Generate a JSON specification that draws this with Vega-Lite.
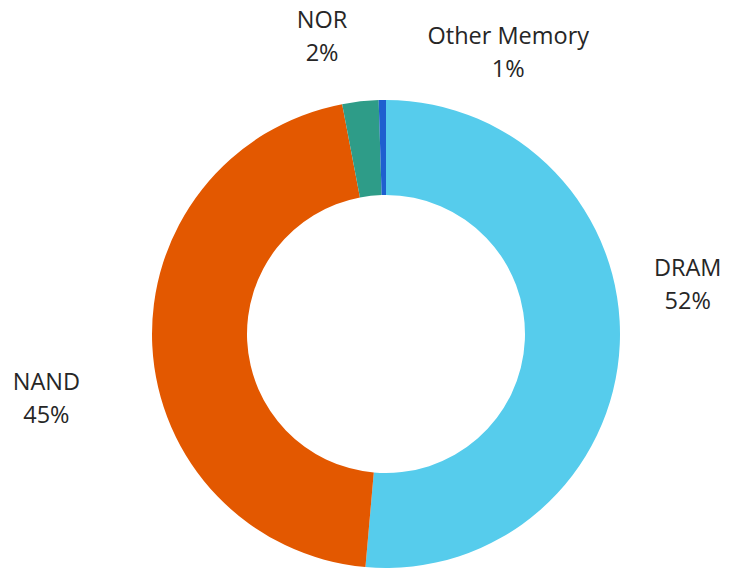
{
  "$schema": "https://vega.github.io/schema/vega-lite/v6.json",
  "width": 460,
  "height": 460,
  "autosize": {"type": "none"},
  "padding": {"left": 156, "top": 104, "right": 116, "bottom": 8},
  "background": "white",
  "data": {
    "values": [
      {"category": "DRAM", "share": 51.4, "order": 1, "label": ["DRAM", "52%"]},
      {"category": "NAND", "share": 45.6, "order": 2, "label": ["NAND", "45%"]},
      {"category": "NOR", "share": 2.5, "order": 3, "label": ["NOR", "2%"]},
      {"category": "Other Memory", "share": 0.5, "order": 4, "label": ["Other Memory", "1%"]}
    ]
  },
  "transform": [
    {"stack": "share", "groupby": [], "sort": [{"field": "order", "order": "ascending"}], "as": ["s0", "s1"]},
    {"calculate": "(datum.s0 + datum.s1) / 2", "as": "mid"}
  ],
  "layer": [
    {
      "mark": {"type": "arc", "outerRadius": 234, "innerRadius": 139},
      "encoding": {
        "theta": {"field": "s0", "type": "quantitative", "scale": {"domain": [0, 100]}},
        "theta2": {"field": "s1"},
        "color": {
          "field": "category",
          "type": "nominal",
          "scale": {
            "domain": ["DRAM", "NAND", "NOR", "Other Memory"],
            "range": ["#56CCEC", "#E35800", "#2E9C88", "#1E5FCF"]
          },
          "legend": null
        }
      }
    },
    {
      "transform": [{"filter": "datum.category === 'DRAM'"}],
      "mark": {"type": "text", "radius": 300, "dx": 2, "dy": -78, "font": "Open Sans", "fontSize": 23.5, "lineHeight": 33, "align": "center", "baseline": "middle", "color": "#262626"},
      "encoding": {"theta": {"field": "mid", "type": "quantitative"}, "text": {"field": "label"}}
    },
    {
      "transform": [{"filter": "datum.category === 'NAND'"}],
      "mark": {"type": "text", "radius": 300, "dx": -40, "dy": 34, "font": "Open Sans", "fontSize": 23.5, "lineHeight": 33, "align": "center", "baseline": "middle", "color": "#262626"},
      "encoding": {"theta": {"field": "mid", "type": "quantitative"}, "text": {"field": "label"}}
    },
    {
      "transform": [{"filter": "datum.category === 'NOR'"}],
      "mark": {"type": "text", "radius": 300, "dx": -31, "dy": -15, "font": "Open Sans", "fontSize": 23.5, "lineHeight": 33, "align": "center", "baseline": "middle", "color": "#262626"},
      "encoding": {"theta": {"field": "mid", "type": "quantitative"}, "text": {"field": "label"}}
    },
    {
      "transform": [{"filter": "datum.category === 'Other Memory'"}],
      "mark": {"type": "text", "radius": 300, "dx": 127, "dy": 3, "font": "Open Sans", "fontSize": 23.5, "lineHeight": 33, "align": "center", "baseline": "middle", "color": "#262626"},
      "encoding": {"theta": {"field": "mid", "type": "quantitative"}, "text": {"field": "label"}}
    }
  ],
  "config": {"view": {"stroke": null}}
}
